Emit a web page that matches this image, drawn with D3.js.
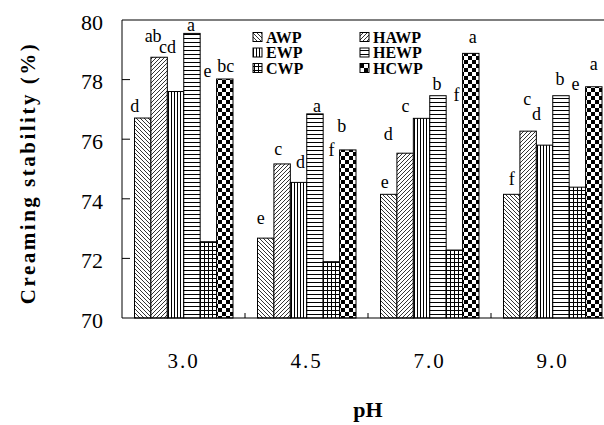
<!DOCTYPE html>
<html>
<head>
<meta charset="utf-8">
<script src="https://cdn.jsdelivr.net/npm/d3@7"></script>
<style>
  body { margin: 0; background: #fff; }
</style>
</head>
<body>
<svg id="chart"></svg>
<script>
// pH groups and protein series
const phLabels = ["3.0", "4.5", "7.0", "9.0"];
const series = ["AWP", "HAWP", "EWP", "HEWP", "CWP", "HCWP"];
const yTicks = [70, 72, 74, 76, 78, 80];

// creaming stability (%) per series, one value per pH
const awp = [76.71, 72.68, 74.15, 74.15];
const hawp = [78.75, 75.17, 75.53, 76.27];
const ewp = [77.6, 74.55, 76.7, 75.8];
const hewp = [79.55, 76.85, 77.46, 77.46];
const cwp = [72.56, 71.89, 72.28, 74.39];
const hcwp = [78.02, 75.64, 78.88, 77.76];

// significance letters per series, one per pH
const awpLetters = ["d", "e", "e", "f"];
const hawpLetters = ["ab", "c", "d", "c"];
const ewpLetters = ["cd", "d", "c", "d"];
const hewpLetters = ["a", "a", "b", "b"];
const cwpLetters = ["e", "f", "f", "e"];
const hcwpLetters = ["bc", "b", "a", "a"];

// level (in %) where each letter sits
const awpLetterAt = [76.91, 73.15, 74.36, 74.46];
const hawpLetterAt = [79.26, 75.47, 75.97, 77.15];
const ewpLetterAt = [78.89, 75.03, 76.91, 76.64];
const hewpLetterAt = [79.63, 76.91, 77.65, 77.82];
const cwpLetterAt = [78.09, 75.44, 77.28, 77.65];
const hcwpLetterAt = [78.26, 76.24, 79.23, 78.32];

const values = [awp, hawp, ewp, hewp, cwp, hcwp];
const letters = [awpLetters, hawpLetters, ewpLetters, hewpLetters, cwpLetters, hcwpLetters];
const letterAt = [awpLetterAt, hawpLetterAt, ewpLetterAt, hewpLetterAt, cwpLetterAt, hcwpLetterAt];

// horizontal nudges of the letters, as placed in the figure
const letterNudge = [
  [-8, -5, -4, 0],
  [-6, -4, -17, -1],
  [-8, 2, -16, -8],
  [-1, 2, -1, -1],
  [-1, 0, 2, -2],
  [1, -6, 2, 0],
];

const svgWidth = 604;
const svgHeight = 425;
const margin = { top: 20, left: 122 };
const width = 492;
const height = 298;

const svg = d3.select("#chart")
  .attr("width", svgWidth).attr("height", svgHeight)
  .attr("font-family", "'Liberation Serif', 'Times New Roman', serif");

// patterns for the bar fills
const defs = svg.append("defs");
const pat = (id, w, h) =>
  defs.append("pattern").attr("id", id).attr("patternUnits", "userSpaceOnUse")
    .attr("width", w).attr("height", h);

let p = pat("p-AWP", 4, 4);
p.append("rect").attr("width", 4).attr("height", 4).attr("fill", "#fff");
p.append("path").attr("d", "M0,0 L4,4 M-1,3 L1,5 M3,-1 L5,1")
  .attr("stroke", "#000").attr("stroke-width", 0.8);

p = pat("p-HAWP", 4, 4);
p.append("rect").attr("width", 4).attr("height", 4).attr("fill", "#fff");
p.append("path").attr("d", "M0,4 L4,0 M-1,1 L1,-1 M3,5 L5,3")
  .attr("stroke", "#000").attr("stroke-width", 0.8);

p = pat("p-EWP", 3, 3);
p.append("rect").attr("width", 3).attr("height", 3).attr("fill", "#fff");
p.append("path").attr("d", "M1.5,0 L1.5,3").attr("stroke", "#000").attr("stroke-width", 1);

p = pat("p-HEWP", 4, 4);
p.append("rect").attr("width", 4).attr("height", 4).attr("fill", "#fff");
p.append("path").attr("d", "M0,2.5 L4,2.5").attr("stroke", "#000").attr("stroke-width", 1);

p = pat("p-CWP", 4, 4);
p.append("rect").attr("width", 4).attr("height", 4).attr("fill", "#fff");
p.append("path").attr("d", "M0,2.5 L4,2.5 M2.5,0 L2.5,4").attr("stroke", "#000").attr("stroke-width", 1);

p = pat("p-HCWP", 8, 8);
p.append("rect").attr("width", 8).attr("height", 8).attr("fill", "#fff");
p.append("rect").attr("width", 4).attr("height", 4).attr("fill", "#000");
p.append("rect").attr("x", 4).attr("y", 4).attr("width", 4).attr("height", 4).attr("fill", "#000");

const g = svg.append("g").attr("transform", `translate(${margin.left},${margin.top})`);

const x0 = d3.scaleBand().domain(phLabels).range([0, width]);
const x1 = d3.scaleBand().domain(series).range([12.5, 111]);
const y = d3.scaleLinear().domain([70, 80]).range([height, 0]);

// bars
const groups = g.selectAll(".grp").data(phLabels).enter().append("g")
  .attr("class", "grp")
  .attr("transform", (d) => `translate(${x0(d)},0)`);

groups.each(function (ph, pi) {
  const grp = d3.select(this);
  const rows = series.map((s, si) => ({
    s, v: values[si][pi], l: letters[si][pi], at: letterAt[si][pi], dx: letterNudge[si][pi],
  }));
  grp.selectAll("rect").data(rows).enter().append("rect")
    .attr("x", (d) => x1(d.s))
    .attr("y", (d) => y(d.v))
    .attr("width", x1.bandwidth())
    .attr("height", (d) => height - y(d.v))
    .attr("fill", (d) => `url(#p-${d.s})`)
    .attr("stroke", "#000")
    .attr("stroke-width", 1);
  grp.selectAll("text").data(rows).enter().append("text")
    .attr("x", (d) => x1(d.s) + x1.bandwidth() / 2 + d.dx)
    .attr("y", (d) => y(d.at))
    .attr("text-anchor", "middle")
    .attr("font-size", 18)
    .text((d) => d.l);
});

// frame: left axis, bottom axis, top line
g.append("line").attr("x1", 0).attr("x2", 0).attr("y1", 0).attr("y2", height).attr("stroke", "#000");
g.append("line").attr("x1", 0).attr("x2", width).attr("y1", height).attr("y2", height).attr("stroke", "#000").attr("stroke-width", 1.2);
g.append("line").attr("x1", 0).attr("x2", width).attr("y1", 0).attr("y2", 0).attr("stroke", "#000").attr("stroke-width", 1.2);

// y ticks (inside) and labels
g.selectAll(".ytick").data(yTicks.filter((t) => t > 70 && t < 80)).enter().append("line")
  .attr("x1", 0).attr("x2", 8)
  .attr("y1", (d) => y(d)).attr("y2", (d) => y(d))
  .attr("stroke", "#000");
g.selectAll(".ylab").data(yTicks).enter().append("text")
  .attr("x", -19)
  .attr("y", (d) => y(d) + 2)
  .attr("dy", "0.35em")
  .attr("text-anchor", "end")
  .attr("font-size", 22)
  .text((d) => d);

// x ticks between groups (pointing up) and labels
g.selectAll(".xtick").data(phLabels.slice(1)).enter().append("line")
  .attr("x1", (d) => x0(d)).attr("x2", (d) => x0(d))
  .attr("y1", height).attr("y2", height - 5)
  .attr("stroke", "#000");
g.selectAll(".xlab").data(phLabels).enter().append("text")
  .attr("x", (d) => x0(d) + x0.bandwidth() / 2)
  .attr("y", height + 50)
  .attr("text-anchor", "middle")
  .attr("font-size", 21)
  .attr("letter-spacing", 2)
  .text((d) => d);

// axis titles
svg.append("text")
  .attr("x", 368).attr("y", 417)
  .attr("text-anchor", "middle")
  .attr("font-size", 22).attr("font-weight", "bold")
  .text("pH");
svg.append("text")
  .attr("transform", "translate(35,173) rotate(-90)")
  .attr("text-anchor", "middle")
  .attr("font-size", 21).attr("font-weight", "bold")
  .attr("letter-spacing", 2.5)
  .text("Creaming stability (%)");

// legend, two columns of three
const legend = svg.append("g");
series.forEach((s, i) => {
  const col = i % 2;
  const row = Math.floor(i / 2);
  const lx = col === 0 ? 253 : 360;
  const ly = 37 + row * 15.5;
  legend.append("rect")
    .attr("x", lx).attr("y", ly - 4.5)
    .attr("width", 9).attr("height", 9)
    .attr("fill", `url(#p-${s})`)
    .attr("stroke", "#000");
  legend.append("text")
    .attr("x", lx + 13).attr("y", ly)
    .attr("dy", "0.35em")
    .attr("font-size", 16).attr("font-weight", "bold")
    .text(s);
});
</script>
</body>
</html>
